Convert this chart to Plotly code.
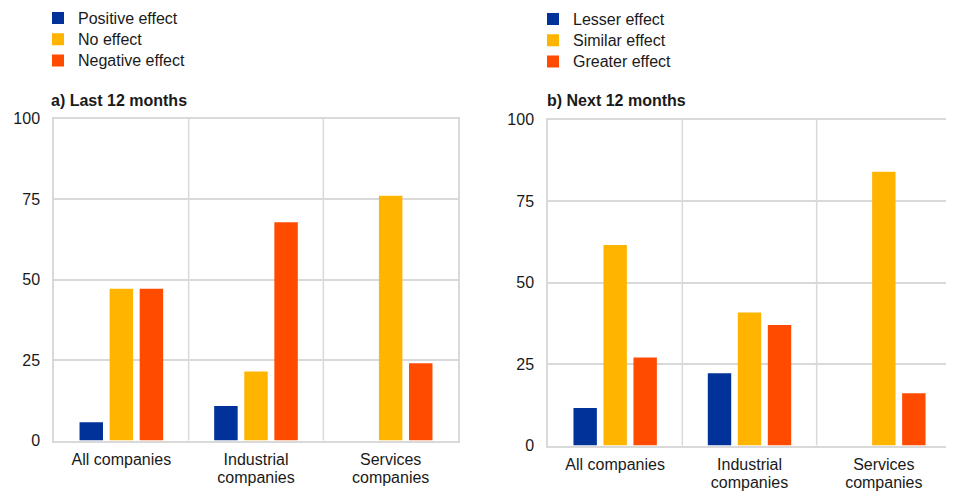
import plotly.graph_objects as go

categories = ["All companies", "Industrial<br>companies", "Services<br>companies"]

# Panel a) Last 12 months
last_series = ["Positive effect", "No effect", "Negative effect"]
last_positive = [5.7, 10.7, 0]
last_none = [47.1, 21.4, 76.0]
last_negative = [47.1, 67.8, 24.0]

# Panel b) Next 12 months
next_series = ["Lesser effect", "Similar effect", "Greater effect"]
next_lesser = [11.5, 22.2, 0]
next_similar = [61.5, 40.8, 84.0]
next_greater = [27.0, 37.0, 16.0]

y_ticks = [0, 25, 50, 75, 100]
colors = ["#003299", "#FFB400", "#FF4B00"]
FONT = "Liberation Sans, Arial, sans-serif"
TXT = "#1a1a1a"
GRID = "#d9d9d9"

def big(s):
    return '<span style="font-size:16px">' + s + '</span>'

fig = go.Figure()

for name, vals, c in zip(last_series, [last_positive, last_none, last_negative], colors):
    fig.add_trace(go.Bar(x=categories, y=vals, name=big(name), marker=dict(color=c, line=dict(width=0)),
                         xaxis="x", yaxis="y", legend="legend", hoverinfo="skip"))
for name, vals, c in zip(next_series, [next_lesser, next_similar, next_greater], colors):
    fig.add_trace(go.Bar(x=categories, y=vals, name=big(name), marker=dict(color=c, line=dict(width=0)),
                         xaxis="x2", yaxis="y2", legend="legend2", hoverinfo="skip"))

# page body has an 8px margin; figure drawn in 946x485 and coordinates given in screen pixels
OFF = 8
W, H = 954 - OFF, 493 - OFF
def px_x(p):
    return (p - OFF) / W
def px_y(p):
    return 1 - (p - OFF) / H

cat_text = [big(c.replace("<br>", "</span><br>" + '<span style="font-size:16px">')) for c in categories]

xcommon = dict(type="category", showgrid=False, showline=True, linecolor=GRID, linewidth=1.5, mirror=True,
               ticks="", tickfont=dict(family=FONT, size=14, color=TXT), zeroline=False, automargin=False,
               ticklabelstandoff=6, tickmode="array", tickvals=categories, ticktext=cat_text)
ycommon = dict(range=[0, 100], tickvals=y_ticks, showgrid=True, gridcolor=GRID, gridwidth=1.5,
               showline=True, linecolor=GRID, linewidth=1.5, mirror=True, ticks="",
               tickfont=dict(family=FONT, size=16, color=TXT), zeroline=False, ticklabelstandoff=9,
               automargin=False)

shapes = []
for xa in ["x", "x2"]:
    for b in [0.5, 1.5]:
        shapes.append(dict(type="line", xref=xa, yref="y domain" if xa == "x" else "y2 domain",
                           x0=b, x1=b, y0=0, y1=1, line=dict(color=GRID, width=1.5), layer="below"))

fig.update_layout(
    width=W, height=H,
    margin=dict(l=0, r=0, t=0, b=0, autoexpand=False),
    paper_bgcolor="white", plot_bgcolor="white",
    barmode="group", bargap=0.33, bargroupgap=0.22,
    font=dict(family=FONT, color=TXT),
    xaxis=dict(domain=[px_x(54), px_x(458)], anchor="y", **xcommon),
    yaxis=dict(domain=[px_y(440.5), px_y(118.5)], anchor="x", **ycommon),
    xaxis2=dict(domain=[px_x(548), px_x(951)], anchor="y2", **xcommon),
    yaxis2=dict(domain=[px_y(445.5), px_y(119.5)], anchor="x2", **ycommon),
    shapes=shapes,
    showlegend=True,
    legend=dict(x=px_x(38), y=px_y(2.5), xanchor="left", yanchor="top", orientation="v",
                font=dict(family=FONT, size=14, color=TXT), bgcolor="rgba(0,0,0,0)", tracegroupgap=0),
    legend2=dict(x=px_x(533), y=px_y(3.5), xanchor="left", yanchor="top", orientation="v",
                 font=dict(family=FONT, size=14, color=TXT), bgcolor="rgba(0,0,0,0)", tracegroupgap=0),
    annotations=[
        dict(text="<b>a) Last 12 months</b>", x=px_x(49), y=px_y(100), xref="paper", yref="paper",
             xanchor="left", yanchor="middle", showarrow=False, font=dict(family=FONT, size=16, color=TXT)),
        dict(text="<b>b) Next 12 months</b>", x=px_x(545), y=px_y(101), xref="paper", yref="paper",
             xanchor="left", yanchor="middle", showarrow=False, font=dict(family=FONT, size=16, color=TXT)),
    ],
)

fig.write_html("out.html")
